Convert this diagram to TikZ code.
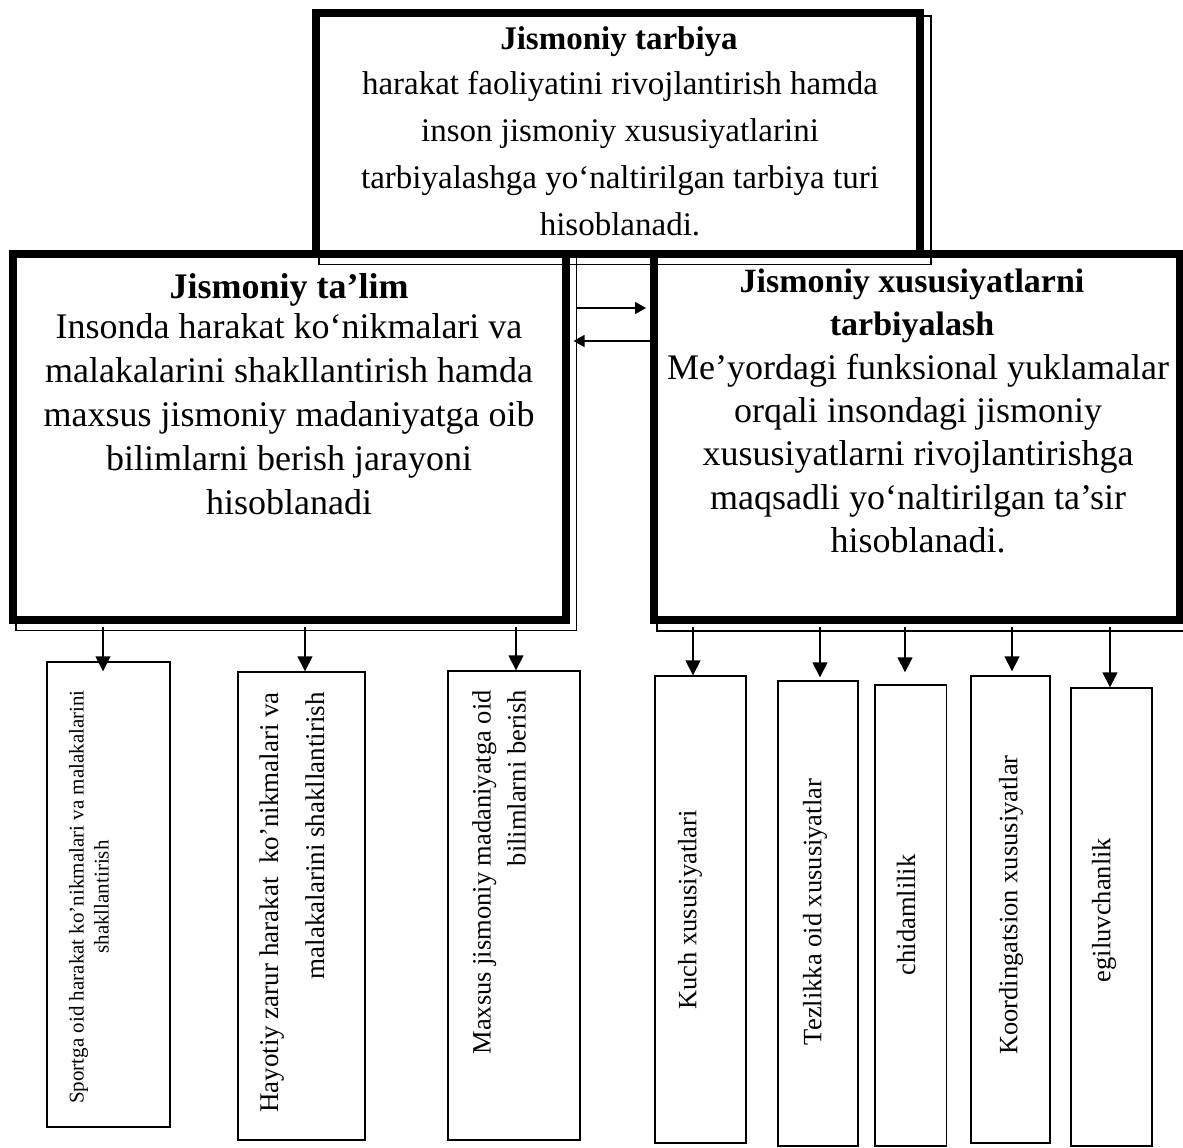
\documentclass[tikz,border=0pt]{standalone}
\usepackage{fontspec}
\setmainfont{Liberation Serif}
\usetikzlibrary{arrows.meta}
\begin{document}
\begin{tikzpicture}[x=1pt,y=-1pt,
  bigbox/.style={draw, line width=8pt, inner sep=0pt},
  shadowline/.style={line width=1.5pt},
  subbox/.style={draw, line width=1.4pt, inner sep=0pt},
  arr/.style={-{Triangle[length=11pt,width=12pt]}, line width=1.5pt},
  darr/.style={-{Triangle[length=15pt,width=15pt]}, line width=1.6pt},
  tline/.style={anchor=base, inner sep=0pt, font=\fontsize{33}{37}\selectfont},
  bline/.style={anchor=base, inner sep=0pt, font=\fontsize{36}{43}\selectfont},
  vtext/.style={rotate=90, inner sep=0pt, font=\fontsize{26.5}{31}\selectfont, align=center},
]
\useasboundingbox (0,0) rectangle (1183,1148);

% big boxes
\node[bigbox, minimum width=604pt, minimum height=240.5pt] (T) at (618,133.25) {};
\draw[shadowline] ([shift={(7,7)}]T.north west) rectangle ([shift={(7,7)}]T.south east);
\node[bigbox, minimum width=552.5pt, minimum height=365.5pt] (L) at (289.25,436.75) {};
\draw[shadowline] ([shift={(7,7)}]L.north west) rectangle ([shift={(7,7)}]L.south east);
\node[bigbox, minimum width=526pt, minimum height=366pt] (R) at (917,437) {};
\draw[shadowline] ([shift={(7,7)}]R.north west) rectangle ([shift={(7,7)}]R.south east);

% top box text
\node[tline, font=\fontsize{33}{37}\selectfont\bfseries] (t1) at (619,49) {Jismoniy tarbiya};
\node[tline] (t2) at (620,94) {harakat faoliyatini rivojlantirish hamda};
\node[tline] (t3) at (620,141) {inson jismoniy xususiyatlarini};
\node[tline] (t4) at (620,188) {tarbiyalashga yo‘naltirilgan tarbiya turi};
\node[tline] (t5) at (620,235) {hisoblanadi.};

% left box text
\node[bline, font=\fontsize{36}{43}\selectfont\bfseries] (l1) at (289,298) {Jismoniy ta’lim};
\node[bline] (l2) at (289,338) {Insonda harakat ko‘nikmalari va};
\node[bline] (l3) at (289,382) {malakalarini shakllantirish hamda};
\node[bline] (l4) at (289,426) {maxsus jismoniy madaniyatga oib};
\node[bline] (l5) at (289,470) {bilimlarni berish jarayoni};
\node[bline] (l6) at (289,514) {hisoblanadi};

% right box text
\node[bline, font=\fontsize{34}{43}\selectfont\bfseries] (r1) at (912,292) {Jismoniy xususiyatlarni};
\node[bline, font=\fontsize{34}{43}\selectfont\bfseries] (r2) at (912,335.5) {tarbiyalash};
\node[bline] (r3) at (918,379) {Me’yordagi funksional yuklamalar};
\node[bline] (r4) at (918,422) {orqali insondagi jismoniy};
\node[bline] (r5) at (918,465.5) {xususiyatlarni rivojlantirishga};
\node[bline] (r6) at (918,509) {maqsadli yo‘naltirilgan ta’sir};
\node[bline] (r7) at (918,552) {hisoblanadi.};

% horizontal arrows
\coordinate (h1) at (576,308);
\coordinate (h2) at (650,341);
\draw[arr] (h1) -- (R.west |- h1) [shorten >=4pt];
\draw[arr] (h2) -- (L.east |- h2) [shorten >=4pt];

% sub boxes
\node[subbox, minimum width=123pt, minimum height=465pt] (b1) at (108.5,894.5) {};
\node[subbox, minimum width=127pt, minimum height=468pt] (b2) at (301.5,906) {};
\node[subbox, minimum width=132pt, minimum height=469pt] (b3) at (514,905.5) {};
\node[subbox, minimum width=91pt, minimum height=467pt] (b4) at (700.5,909.5) {};
\node[subbox, minimum width=80pt, minimum height=465pt] (b5) at (818,913.5) {};
\node[subbox, minimum width=71.7pt, minimum height=461pt] (b6) at (910.8,915.5) {};
\node[subbox, minimum width=79pt, minimum height=467pt] (b7) at (1010.5,909.5) {};
\node[subbox, minimum width=81pt, minimum height=458pt] (b8) at (1111.5,917) {};

% sub box texts
\node[vtext, font=\fontsize{21}{25}\selectfont] (v1) at (89,897) {Sportga oid harakat ko’nikmalari va malakalarini\\shakllantirish};
\node[vtext, font=\fontsize{27}{46}\selectfont, align=right, anchor=east] (v2) at (292,692) {Hayotiy zarur harakat\ \ ko’nikmalari va\\malakalarini shakllantirish};
\node[vtext, font=\fontsize{26.5}{35}\selectfont, align=right, anchor=east] (v3) at (499,690) {Maxsus jismoniy madaniyatga oid\\bilimlarni berish};
\node[vtext] (v4) at (690,910) {Kuch xususiyatlari};
\node[vtext] (v5) at (815,912) {Tezlikka oid xususiyatlar};
\node[vtext] (v6) at (906,915) {chidamlilik};
\node[vtext] (v7) at (1011,905) {Koordingatsion xususiyatlar};
\node[vtext] (v8) at (1104,910) {egiluvchanlik};

% down arrows
\coordinate (a1) at (103,627);
\coordinate (a2) at (305,627);
\coordinate (a3) at (516,627);
\coordinate (a4) at (693,627);
\coordinate (a5) at (820,627);
\coordinate (a6) at (905,627);
\coordinate (a7) at (1012,627);
\coordinate (a8) at (1110,627);
\draw[darr, shorten >=-10pt] (a1) -- (a1 |- b1.north);
\draw[darr] (a2) -- (a2 |- b2.north);
\draw[darr] (a3) -- (a3 |- b3.north);
\draw[darr] (a4) -- (a4 |- b4.north);
\draw[darr, shorten >=3pt] (a5) -- (a5 |- b5.north);
\draw[darr, shorten >=12pt] (a6) -- (a6 |- b6.north);
\draw[darr, shorten >=4pt] (a7) -- (a7 |- b7.north);
\draw[darr] (a8) -- (a8 |- b8.north);
\end{tikzpicture}
\end{document}
